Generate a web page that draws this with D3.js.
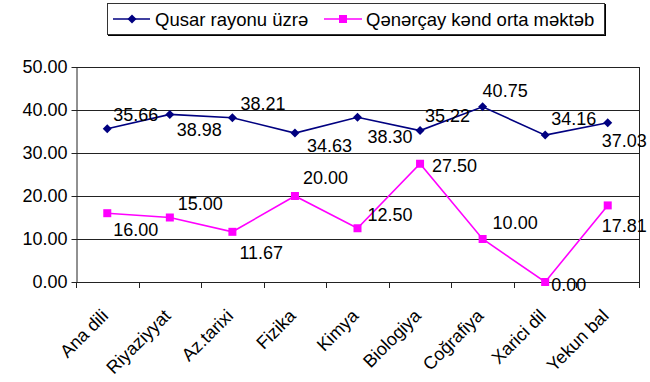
<!DOCTYPE html>
<html><head><meta charset="utf-8">
<script src="https://cdn.jsdelivr.net/npm/d3@7"></script>
<style>html,body{margin:0;padding:0;background:#fff;}svg{display:block;font-family:"Liberation Sans",Arial,sans-serif;}</style>
</head><body>
<svg id="c" width="650" height="382"></svg>
<script>
const categories = ["Ana dili","Riyaziyyat","Az.tarixi","Fizika","Kimya","Biologiya","Coğrafiya","Xarici dil","Yekun bal"];
const seriesNames = ["Qusar rayonu üzrə","Qənərçay kənd orta məktəb"];
const qusarValues = [35.66,38.98,38.21,34.63,38.30,35.22,40.75,34.16,37.03];
const qenercayValues = [16.00,15.00,11.67,20.00,12.50,27.50,10.00,0.00,17.81];
const yTicks = [0,10,20,30,40,50];

// label placement (layout only): [dx, dy] from point to label start/center
const qusarLabelOffsets = [[6,-14],[7,15],[8,-14],[12,12],[10,19],[5,-15],[0,-16],[6,-17],[-6,18]];
const qenercayLabelOffsets = [[6,16],[8,-14],[7,21],[8,-18],[10,-14],[12,2],[10,-16],[6,3],[-6,20]];

const svg = d3.select("#c");
const pLeft=76, pRight=639, pTop=67, pBottom=282;
const x = d3.scaleBand().domain(categories).range([pLeft,pRight]).padding(0);
const y = d3.scaleLinear().domain([0,50]).range([pBottom,pTop]);
const cx = c => x(c)+x.bandwidth()/2;
const fs = 18;
const lineCol = "#222";

// gridlines
svg.append("g").selectAll("line").data(yTicks.filter(d=>d>0)).join("line")
  .attr("x1",pLeft).attr("x2",pRight).attr("y1",d=>y(d)+0.5).attr("y2",d=>y(d)+0.5)
  .attr("stroke",lineCol).attr("stroke-width",1);
// right border
svg.append("line").attr("x1",pRight+0.5).attr("x2",pRight+0.5).attr("y1",pTop).attr("y2",pBottom)
  .attr("stroke",lineCol);

// y axis
const ya = svg.append("g").attr("transform",`translate(${pLeft+0.5},0)`)
  .call(d3.axisLeft(y).tickValues(yTicks).tickSize(5).tickSizeOuter(0).tickFormat(d3.format(".2f")));
ya.select(".domain").attr("stroke",lineCol);
ya.selectAll(".tick line").attr("stroke",lineCol);
ya.selectAll("text").attr("font-size",fs).attr("font-family","Liberation Sans, Arial").attr("fill","#000").attr("x",-9);

// x axis
const bounds = categories.map(c=>x(c)).concat([pRight]);
svg.append("line").attr("x1",pLeft).attr("x2",pRight+1).attr("y1",pBottom+0.5).attr("y2",pBottom+0.5).attr("stroke",lineCol);
svg.append("g").selectAll("line").data(bounds).join("line")
  .attr("x1",d=>Math.round(d)+0.5).attr("x2",d=>Math.round(d)+0.5).attr("y1",pBottom).attr("y2",pBottom+6).attr("stroke",lineCol);
svg.append("g").selectAll("text").data(categories).join("text")
  .attr("transform",d=>`translate(${cx(d)+2},${pBottom+35}) rotate(-45)`)
  .attr("text-anchor","end").attr("font-size",fs).attr("fill","#000").text(d=>d);

function drawSeries(vals, color, offsets, marker){
  const pts = categories.map((c,i)=>[cx(c), y(vals[i])]);
  svg.append("path").attr("d",d3.line()(pts)).attr("fill","none").attr("stroke",color).attr("stroke-width",1.6);
  const g = svg.append("g");
  if(marker==="diamond"){
    g.selectAll("path").data(pts).join("path")
      .attr("d",d=>`M${d[0]},${d[1]-4.5}L${d[0]+4.5},${d[1]}L${d[0]},${d[1]+4.5}L${d[0]-4.5},${d[1]}Z`)
      .attr("fill",color);
  } else {
    g.selectAll("rect").data(pts).join("rect")
      .attr("x",d=>d[0]-4).attr("y",d=>d[1]-4).attr("width",8).attr("height",8).attr("fill",color);
  }
  svg.append("g").selectAll("text").data(pts).join("text")
    .attr("x",(d,i)=>d[0]+offsets[i][0]).attr("y",(d,i)=>d[1]+offsets[i][1]).attr("dy","0.36em")
    .attr("font-size",fs).attr("fill","#000").text((d,i)=>vals[i].toFixed(2));
}
drawSeries(qusarValues,"#000080",qusarLabelOffsets,"diamond");
drawSeries(qenercayValues,"#FF00FF",qenercayLabelOffsets,"square");

// legend
const lg = svg.append("g");
const ly = 19;
lg.append("rect").attr("x",108).attr("y",4).attr("width",498).attr("height",32).attr("fill","#000");
lg.append("rect").attr("x",107.5).attr("y",3.5).attr("width",497).attr("height",31).attr("fill","#fff").attr("stroke","#333");
// item 1
lg.append("line").attr("x1",113).attr("x2",150).attr("y1",ly).attr("y2",ly).attr("stroke","#000080").attr("stroke-width",1.6);
lg.append("path").attr("d",`M132,${ly-4.5}L136.5,${ly}L132,${ly+4.5}L127.5,${ly}Z`).attr("fill","#000080");
lg.append("text").attr("x",155).attr("y",ly).attr("dy","0.36em").attr("font-size",18.5).text(seriesNames[0]);
// item 2
lg.append("line").attr("x1",324).attr("x2",362).attr("y1",ly).attr("y2",ly).attr("stroke","#FF00FF").attr("stroke-width",1.6);
lg.append("rect").attr("x",339).attr("y",ly-4).attr("width",8).attr("height",8).attr("fill","#FF00FF");
lg.append("text").attr("x",366).attr("y",ly).attr("dy","0.36em").attr("font-size",18.5).text(seriesNames[1]);
</script>
</body></html>
